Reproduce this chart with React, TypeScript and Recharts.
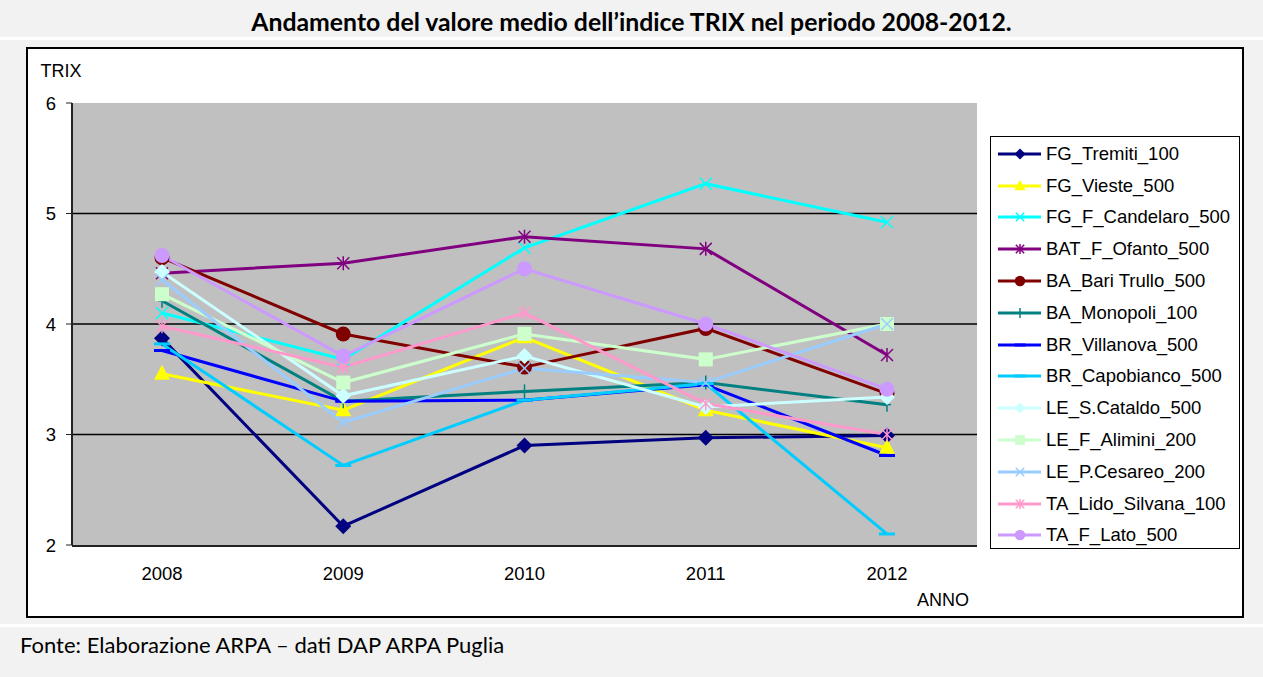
import React from "react";
import {
  LineChart,
  Line,
  XAxis,
  YAxis,
  CartesianGrid,
  ReferenceArea,
  Legend,
  Label,
} from "recharts";

// values (TRIX annual mean)
const years = ["2008", "2009", "2010", "2011", "2012"];
const yTicks = [2, 3, 4, 5, 6];

const tremiti = [3.87, 2.17, 2.9, 2.97, 2.99];
const vieste = [3.55, 3.22, 3.88, 3.22, 2.88];
const candelaro = [4.1, 3.68, 4.69, 5.27, 4.92];
const ofanto = [4.46, 4.55, 4.79, 4.68, 3.72];
const bariTrullo = [4.6, 3.91, 3.61, 3.96, 3.37];
const monopoli = [4.21, 3.3, 3.39, 3.47, 3.27];
const villanova = [3.76, 3.3, 3.31, 3.45, 2.81];
const capobianco = [3.82, 2.72, 3.31, 3.46, 2.1];
const sCataldo = [4.47, 3.35, 3.71, 3.25, 3.34];
const alimini = [4.27, 3.47, 3.91, 3.68, 4.0];
const cesareo = [4.4, 3.11, 3.6, 3.47, 4.0];
const lidoSilvana = [3.98, 3.61, 4.1, 3.28, 3.0];
const lato = [4.62, 3.71, 4.5, 4.0, 3.41];

type Shape = "diamond" | "triangle" | "x" | "star" | "circle" | "plus" | "dash" | "square";

const series: { key: string; values: number[]; color: string; shape: Shape }[] = [
  { key: "FG_Tremiti_100", values: tremiti, color: "#000080", shape: "diamond" },
  { key: "FG_Vieste_500", values: vieste, color: "#FFFF00", shape: "triangle" },
  { key: "FG_F_Candelaro_500", values: candelaro, color: "#00FFFF", shape: "x" },
  { key: "BAT_F_Ofanto_500", values: ofanto, color: "#800080", shape: "star" },
  { key: "BA_Bari Trullo_500", values: bariTrullo, color: "#800000", shape: "circle" },
  { key: "BA_Monopoli_100", values: monopoli, color: "#008080", shape: "plus" },
  { key: "BR_Villanova_500", values: villanova, color: "#0000FF", shape: "dash" },
  { key: "BR_Capobianco_500", values: capobianco, color: "#00CCFF", shape: "dash" },
  { key: "LE_S.Cataldo_500", values: sCataldo, color: "#CCFFFF", shape: "diamond" },
  { key: "LE_F_Alimini_200", values: alimini, color: "#CCFFCC", shape: "square" },
  { key: "LE_P.Cesareo_200", values: cesareo, color: "#99CCFF", shape: "x" },
  { key: "TA_Lido_Silvana_100", values: lidoSilvana, color: "#FF99CC", shape: "star" },
  { key: "TA_F_Lato_500", values: lato, color: "#CC99FF", shape: "circle" },
];

const data = years.map((year, i) => {
  const row: Record<string, string | number> = { year };
  series.forEach((s) => {
    row[s.key] = s.values[i];
  });
  return row;
});

const FONT = "'Liberation Sans', Arial, sans-serif";

function Marker({ cx, cy, shape, color, s = 1 }: { cx: number; cy: number; shape: Shape; color: string; s?: number }) {
  if (cx == null || cy == null) return null;
  switch (shape) {
    case "diamond":
      return (
        <polygon
          points={`${cx},${cy - 8 * s} ${cx + 8 * s},${cy} ${cx},${cy + 8 * s} ${cx - 8 * s},${cy}`}
          fill={color}
        />
      );
    case "triangle":
      return (
        <polygon
          points={`${cx},${cy - 9 * s} ${cx + 8 * s},${cy + 6 * s} ${cx - 8 * s},${cy + 6 * s}`}
          fill={color}
        />
      );
    case "square":
      return <rect x={cx - 7 * s} y={cy - 7 * s} width={14 * s} height={14 * s} fill={color} />;
    case "circle":
      return <circle cx={cx} cy={cy} r={7.5 * s} fill={color} />;
    case "x":
      return (
        <g stroke={color} strokeWidth={1.5}>
          <line x1={cx - 6 * s} y1={cy - 6 * s} x2={cx + 6 * s} y2={cy + 6 * s} />
          <line x1={cx - 6 * s} y1={cy + 6 * s} x2={cx + 6 * s} y2={cy - 6 * s} />
        </g>
      );
    case "star":
      return (
        <g stroke={color} strokeWidth={1.5}>
          <line x1={cx - 6 * s} y1={cy - 6 * s} x2={cx + 6 * s} y2={cy + 6 * s} />
          <line x1={cx - 6 * s} y1={cy + 6 * s} x2={cx + 6 * s} y2={cy - 6 * s} />
          <line x1={cx} y1={cy - 7 * s} x2={cx} y2={cy + 7 * s} />
        </g>
      );
    case "plus":
      return (
        <g stroke={color} strokeWidth={1.5}>
          <line x1={cx} y1={cy - 7 * s} x2={cx} y2={cy + 7 * s} />
          <line x1={cx - 4 * s} y1={cy} x2={cx + 4 * s} y2={cy} />
        </g>
      );
    case "dash":
      return <line x1={cx - 8 * s} y1={cy} x2={cx + 8 * s} y2={cy} stroke={color} strokeWidth={3} />;
  }
  return null;
}

const makeDot = (shape: Shape, color: string) => (p: any) =>
  <Marker key={p.key ?? `${p.index}`} cx={p.cx} cy={p.cy} shape={shape} color={color} />;

function LegendBox() {
  return (
    <div
      style={{
        border: "1px solid #000",
        background: "#fff",
        width: 250,
        height: 413,
        boxSizing: "border-box",
        paddingTop: 1,
      }}
    >
      {series.map((s) => (
        <div key={s.key} style={{ display: "flex", alignItems: "center", height: 31.8 }}>
          <svg width={55} height={20} style={{ flex: "none" }}>
            <line x1={7} y1={10} x2={50} y2={10} stroke={s.color} strokeWidth={3} />
            <Marker cx={29} cy={10} shape={s.shape} color={s.color} s={0.7} />
          </svg>
          <span style={{ fontFamily: FONT, fontSize: 18.5, color: "#000", whiteSpace: "nowrap" }}>
            {s.key}
          </span>
        </div>
      ))}
    </div>
  );
}

export default function App() {
  return (
    <div
      style={{
        position: "absolute",
        left: 0,
        top: 0,
        width: 1263,
        height: 677,
        background: "#f2f2f2",
        fontFamily: FONT,
      }}
    >
      <div
        style={{
          height: 37,
          borderBottom: "3px solid #fff",
          textAlign: "center",
          fontFamily: "Lato, 'Open Sans', sans-serif",
          fontWeight: 700,
          fontSize: 24.8,
          lineHeight: "44px",
          color: "#000",
        }}
      >
        Andamento del valore medio dell’indice TRIX nel periodo 2008-2012.
      </div>
      <div
        style={{
          position: "absolute",
          left: 26,
          top: 47,
          width: 1218,
          height: 571,
          boxSizing: "border-box",
          border: "2px solid #000",
          background: "#fff",
        }}
      >
        <LineChart
          width={1214}
          height={567}
          data={data}
          margin={{ top: 56, right: 13, bottom: 0, left: 0 }}
          style={{ position: "absolute", left: -2, top: -2 }}
        >
          <CartesianGrid fill="#c0c0c0" vertical={false} horizontalValues={[3, 4, 5]} stroke="#000" strokeWidth={1.5} />
          <XAxis
            dataKey="year"
            height={1}
            padding={{ left: 90, right: 90 }}
            axisLine={false}
            tickLine={false}
            tickSize={0}
            tickMargin={22}
            tick={{ fill: "#000", fontSize: 18.5, fontFamily: FONT }}
            interval={0}
          />
          <XAxis
            xAxisId="bounds"
            type="number"
            domain={[0, 5]}
            ticks={[0, 1, 2, 3, 4, 5]}
            tick={false}
            height={68}
            axisLine={{ stroke: "#222", strokeWidth: 2 }}
            tickLine={{ stroke: "#000", strokeWidth: 1.5 }}
            tickSize={6}
          >
            <Label value="ANNO" position="insideBottomRight" offset={8} fill="#000" fontSize={18} fontFamily={FONT} />
          </XAxis>
          <YAxis
            width={46}
            domain={[2, 6]}
            ticks={yTicks}
            interval={0}
            tickSize={6}
            tickMargin={10}
            axisLine={{ stroke: "#222", strokeWidth: 2 }}
            tickLine={{ stroke: "#222" }}
            tick={{ fill: "#000", fontSize: 18.5, fontFamily: FONT }}
          >
            <Label value="TRIX" position="top" offset={26} dx={12} fill="#000" fontSize={18} fontFamily={FONT} />
          </YAxis>
          <ReferenceArea xAxisId="bounds" x1={0} x2={5} y1={2} y2={6} fill="none" stroke="#808080" strokeWidth={1.5} />
          {series.map((s) => (
            <Line
              key={s.key}
              dataKey={s.key}
              stroke={s.color}
              strokeWidth={3}
              dot={makeDot(s.shape, s.color)}
              activeDot={false}
              isAnimationActive={false}
            />
          ))}
          <Legend
            layout="vertical"
            align="right"
            verticalAlign="middle"
            content={() => <LegendBox />}
            wrapperStyle={{ left: 964, top: 89, width: 250, height: 413 }}
          />
        </LineChart>
      </div>
      <div
        style={{
          position: "absolute",
          left: 0,
          top: 624,
          width: 1263,
          borderTop: "3px solid #fff",
          paddingTop: 4,
          paddingLeft: 20,
          fontFamily: "Lato, 'Open Sans', sans-serif",
          fontSize: 22,
          color: "#000",
        }}
      >
        Fonte: Elaborazione ARPA – dati DAP ARPA Puglia
      </div>
    </div>
  );
}
